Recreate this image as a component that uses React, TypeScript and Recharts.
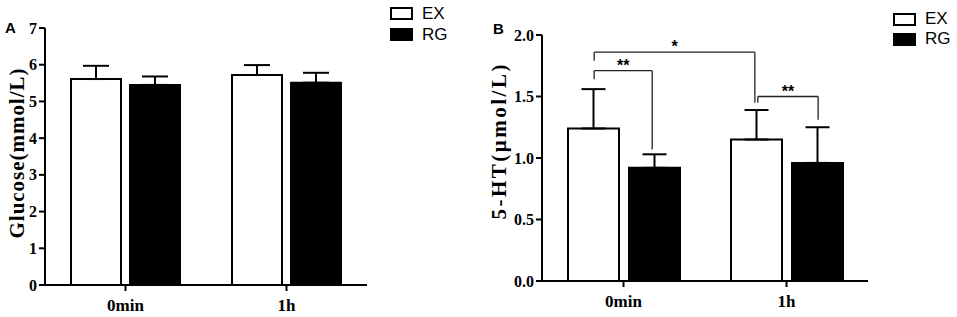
import React from "react"
import { Bar, BarChart, ErrorBar, Legend, ReferenceLine, XAxis, YAxis } from "recharts"

const times = ["0min", "1h"]

// Panel A: glucose (mmol/L), mean and upper SD
const glucoseEx = [5.61, 5.72]
const glucoseExSd = [0.36, 0.27]
const glucoseRg = [5.45, 5.51]
const glucoseRgSd = [0.23, 0.27]
const glucoseTicks = [0, 1, 2, 3, 4, 5, 6, 7]

// Panel B: 5-HT (µmol/L)
const htEx = [1.24, 1.15]
const htExSd = [0.32, 0.24]
const htRg = [0.92, 0.96]
const htRgSd = [0.11, 0.29]
const htTicks = [0, 0.5, 1, 1.5, 2]

// significance brackets for panel B, x as a fraction of the plot width
const htBrackets = [
  { x1: 0.16, x2: 0.653, yLeft: 1.79, yTop: 1.86, yRight: 1.45, mark: "*" },
  { x1: 0.16, x2: 0.338, yLeft: 1.64, yTop: 1.71, yRight: 1.07, mark: "**" },
  { x1: 0.662, x2: 0.847, yLeft: 1.45, yTop: 1.5, yRight: 1.31, mark: "**" },
]

const series = [
  { key: "ex", name: "EX", fill: "#ffffff" },
  { key: "rg", name: "RG", fill: "#000000" },
]

const serif = '"Liberation Serif", "Times New Roman", serif'
const sans = '"Liberation Sans", Arial, sans-serif'

function buildRows(ex: number[], exSd: number[], rg: number[], rgSd: number[]) {
  return times.map((t, i) => ({
    time: t,
    ex: ex[i],
    exErr: [0, exSd[i]],
    rg: rg[i],
    rgErr: [0, rgSd[i]],
  }))
}

const AxisTitle = (props: any) => {
  const { viewBox, value, dx, dy, len, size } = props
  const cx = viewBox.x + dx
  const cy = viewBox.y + viewBox.height / 2 + dy
  return (
    <text
      x={cx}
      y={cy}
      transform={`rotate(-90 ${cx} ${cy})`}
      textAnchor="middle"
      dominantBaseline="central"
      fontFamily={serif}
      fontWeight="bold"
      fontSize={size}
      textLength={len}
      lengthAdjust="spacing"
      fill="#000"
    >
      {value}
    </text>
  )
}

const XTick = (props: any) => (
  <text x={props.x} y={props.y} dy="0.71em" textAnchor="middle" fontFamily={serif} fontWeight="bold" fontSize={17} fill="#000">
    {props.payload.value}
  </text>
)

const YTick = (props: any) => {
  const v = props.payload.value
  const label = props.digits ? Number(v).toFixed(props.digits) : String(v)
  return (
    <text x={props.x} y={props.y} dy="0.35em" textAnchor="end" fontFamily={serif} fontWeight="bold" fontSize={16} fill="#000">
      {label}
    </text>
  )
}

const LegendContent = (props: any) => {
  const { payload, rowHeight } = props
  return (
    <div style={{ fontFamily: sans, fontSize: 17, color: "#000" }}>
      {(payload || []).map((p: any) => {
        const s = series.find((x) => x.name === p.value)
        return (
          <div key={p.value} style={{ display: "flex", alignItems: "center", height: rowHeight }}>
            <span
              style={{
                display: "inline-block",
                width: 19,
                height: 9,
                border: "2px solid #000",
                background: s ? s.fill : p.color,
                marginRight: 9,
              }}
            />
            <span>{p.value}</span>
          </div>
        )
      })}
    </div>
  )
}

const lineStyle = { stroke: "#000", strokeWidth: 2 }

export default function App() {
  const glucoseRows = buildRows(glucoseEx, glucoseExSd, glucoseRg, glucoseRgSd)
  const htRows = buildRows(htEx, htExSd, htRg, htRgSd)

  return (
    <div style={{ position: "absolute", left: 0, top: 0, width: 957, height: 317, background: "#fff" }}>
      <div style={{ position: "absolute", left: 5, top: 20, fontFamily: sans, fontWeight: "bold", fontSize: 15, lineHeight: "15px" }}>A</div>
      <div style={{ position: "absolute", left: 493, top: 21, fontFamily: sans, fontWeight: "bold", fontSize: 15, lineHeight: "15px" }}>B</div>

      <div style={{ position: "absolute", left: 0, top: 0 }}>
        <BarChart
          width={480}
          height={317}
          data={glucoseRows}
          margin={{ top: 28, right: 113, bottom: 2, left: 0 }}
          barSize={50}
          barGap={9}
        >
          <XAxis
            dataKey="time"
            height={30}
            axisLine={lineStyle}
            tickLine={lineStyle}
            tickSize={6}
            tickMargin={8}
            tick={<XTick />}
          />
          <YAxis
            width={45}
            domain={[0, 7]}
            ticks={glucoseTicks}
            interval={0}
            axisLine={lineStyle}
            tickLine={lineStyle}
            tickSize={6}
            tickMargin={2}
            tick={<YTick />}
            label={<AxisTitle value="Glucose(mmol/L)" dx={17} dy={-3} len={170} size={21} />}
          />
          <Legend
            layout="horizontal"
            verticalAlign="middle"
            align="center"
            wrapperStyle={{ left: 390, top: 3, width: "auto", height: "auto" }}
            content={<LegendContent rowHeight={21} />}
          />
          {series.map((s) => (
            <Bar key={s.key} dataKey={s.key} name={s.name} fill={s.fill} stroke="#000" strokeWidth={2} isAnimationActive={false}>
              <ErrorBar dataKey={s.key + "Err"} direction="y" width={13} stroke="#000" strokeWidth={2} isAnimationActive={false} />
            </Bar>
          ))}
        </BarChart>
      </div>

      <div style={{ position: "absolute", left: 480, top: 0 }}>
        <BarChart
          width={477}
          height={317}
          data={htRows}
          margin={{ top: 35, right: 89, bottom: 6, left: 0 }}
          barSize={51}
          barGap={10}
        >
          <XAxis
            dataKey="time"
            height={30}
            axisLine={lineStyle}
            tickLine={lineStyle}
            tickSize={6}
            tickMargin={8}
            tick={<XTick />}
          />
          <XAxis xAxisId="num" type="number" domain={[0, 1]} allowDataOverflow hide />
          <YAxis
            width={62}
            domain={[0, 2]}
            ticks={htTicks}
            interval={0}
            axisLine={lineStyle}
            tickLine={lineStyle}
            tickSize={6}
            tickMargin={2}
            tick={<YTick digits={1} />}
            label={<AxisTitle value="5-HT(μmol/L)" dx={19} dy={-16} len={155} size={21} />}
          />
          <Legend
            layout="horizontal"
            verticalAlign="middle"
            align="center"
            wrapperStyle={{ left: 413, top: 9, width: "auto", height: "auto" }}
            content={<LegendContent rowHeight={20} />}
          />
          {series.map((s) => (
            <Bar key={s.key} dataKey={s.key} name={s.name} fill={s.fill} stroke="#000" strokeWidth={2} isAnimationActive={false}>
              <ErrorBar dataKey={s.key + "Err"} direction="y" width={12} stroke="#000" strokeWidth={2} isAnimationActive={false} />
            </Bar>
          ))}
          {htBrackets.map((b, i) => (
            <React.Fragment key={i}>
              <ReferenceLine
                xAxisId="num"
                segment={[{ x: b.x1, y: b.yLeft }, { x: b.x1, y: b.yTop }]}
                stroke="#222"
                strokeWidth={1.3}
              />
              <ReferenceLine
                xAxisId="num"
                segment={[{ x: b.x1, y: b.yTop }, { x: b.x2, y: b.yTop }]}
                stroke="#222"
                strokeWidth={1.3}
                label={{ value: b.mark, position: "top", offset: 0, fill: "#000", fontSize: 16, fontWeight: "bold", fontFamily: sans }}
              />
              <ReferenceLine
                xAxisId="num"
                segment={[{ x: b.x2, y: b.yTop }, { x: b.x2, y: b.yRight }]}
                stroke="#222"
                strokeWidth={1.3}
              />
            </React.Fragment>
          ))}
        </BarChart>
      </div>
    </div>
  )
}
